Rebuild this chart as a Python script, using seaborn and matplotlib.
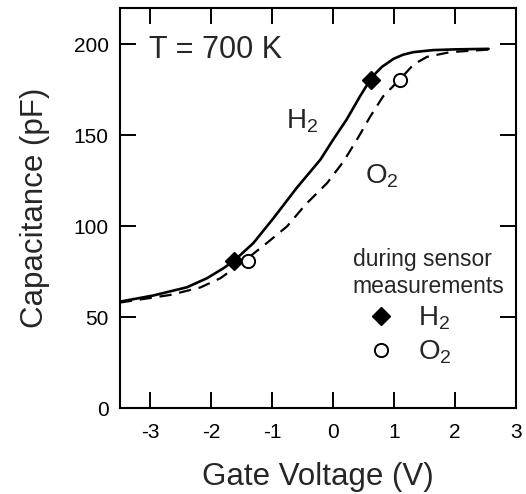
import matplotlib
matplotlib.use("Agg")
import matplotlib.pyplot as plt
import pandas as pd
import seaborn as sns

# C-V curves
h2_v = [-3.5, -2.95, -2.40, -2.07, -1.80, -1.63, -1.31, -0.98, -0.60, -0.21, 0.0, 0.22,
        0.44, 0.61, 0.70, 0.80, 0.99, 1.15, 1.32, 1.64, 2.0, 2.55]
h2_c = [58.5, 61.9, 66.4, 71.4, 76.9, 80.9, 90.7, 104.4, 121.0, 136.6, 147.6, 158.6,
        171.4, 180.6, 184.2, 187.6, 192.0, 194.3, 195.7, 196.8, 197.2, 197.5]
o2_v = [-3.5, -2.67, -2.18, -1.85, -1.47, -1.09, -0.76, -0.45, -0.10, 0.17, 0.39, 0.61,
        0.82, 1.09, 1.32, 1.54, 1.92, 2.55]
o2_c = [58.0, 62.2, 66.3, 71.4, 80.6, 90.7, 99.8, 112.0, 123.7, 135.6, 147.6, 160.4,
        171.4, 180.6, 188.9, 193.1, 195.7, 197.1]

# points measured during sensor operation
h2_pts_v = [-1.63, 0.62]
h2_pts_c = [80.9, 180.6]
o2_pts_v = [-1.40, 1.09]
o2_pts_c = [80.9, 180.6]

sns.set_style("ticks")
plt.rcParams['font.family'] = ['Liberation Sans', 'DejaVu Sans']
plt.rcParams['mathtext.fontset'] = 'custom'
plt.rcParams['mathtext.rm'] = 'Liberation Sans'
plt.rcParams['mathtext.default'] = 'regular'
plt.rcParams['axes.unicode_minus'] = False

fig = plt.figure(figsize=(5.26, 4.94), dpi=100)
ax = fig.add_axes([0.228, 0.174, 0.753, 0.81])

sns.lineplot(data=pd.DataFrame({"v": h2_v, "c": h2_c}), x="v", y="c", ax=ax,
             color="black", lw=1.9, sort=False)
sns.lineplot(data=pd.DataFrame({"v": o2_v, "c": o2_c}), x="v", y="c", ax=ax,
             color="black", lw=1.6, sort=False, linestyle=(0, (5.5, 3.5)))

ax.plot(h2_pts_v, h2_pts_c, ls="none", marker="D", ms=9, mfc="black", mec="black",
        label="H$_2$")
ax.plot(o2_pts_v, o2_pts_c, ls="none", marker="o", ms=9.5, mfc="white", mec="black",
        mew=1.4, label="O$_2$")

ax.set_xlim(-3.5, 3)
ax.set_ylim(0, 220)
ax.set_xticks([-3, -2, -1, 0, 1, 2, 3])
ax.set_yticks([0, 50, 100, 150, 200])
ax.tick_params(direction="in", length=11.5, width=1.4, color="black", top=True,
               right=True, labelsize=15, labelcolor="black")
ax.tick_params(axis="x", pad=11)
ax.tick_params(axis="y", pad=8)
for s in ax.spines.values():
    s.set_linewidth(1.5)
    s.set_color("black")
ax.set_xlabel("Gate Voltage (V)", fontsize=22.5, labelpad=14)
ax.set_ylabel("Capacitance (pF)", fontsize=22.5, labelpad=17)

ax.text(0.074, 0.895, "T = 700 K", transform=ax.transAxes, fontsize=22, va="center")
ax.text(-0.77, 157.7, "H$_2$", fontsize=20, va="center")
ax.text(0.52, 127.4, "O$_2$", fontsize=20, va="center")

leg = ax.legend(title="during sensor\nmeasurements", loc="upper left",
                bbox_to_anchor=(0.588, 0.4), frameon=False, fontsize=20,
                title_fontsize=16.5, handlelength=2.0, handletextpad=0.34,
                labelspacing=0.25, borderpad=0, borderaxespad=0)
leg._legend_box.align = "left"

fig.savefig("out.png", dpi=100)
